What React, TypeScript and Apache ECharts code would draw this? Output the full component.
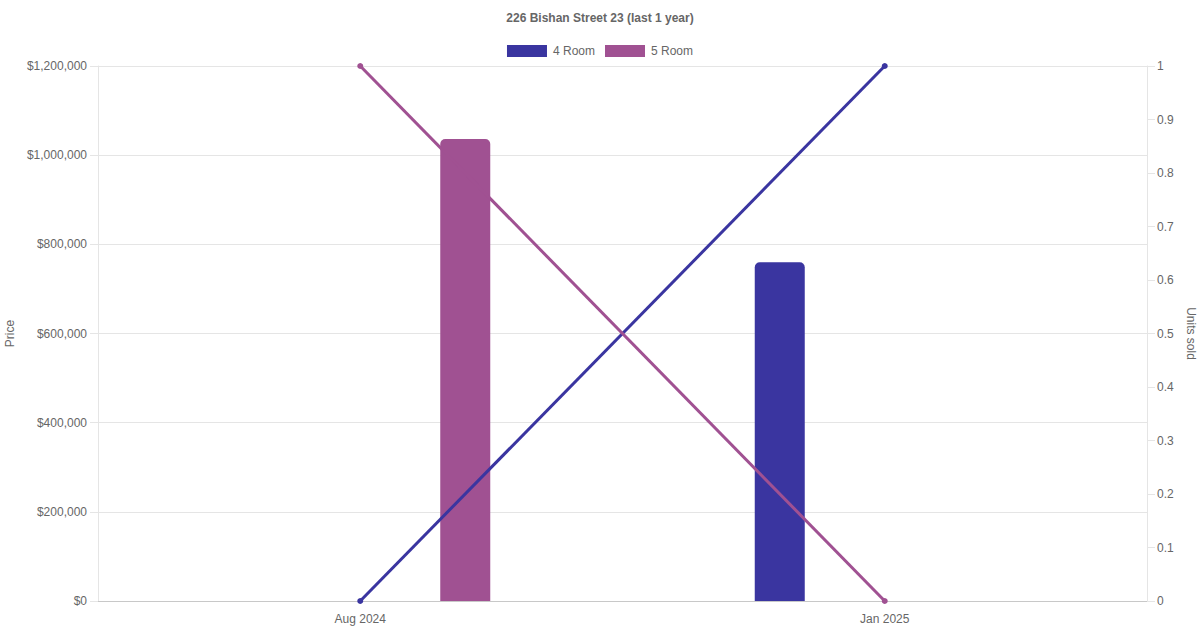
import React, { useEffect, useRef } from "react";
import * as echarts from "echarts";

const categories = ["Aug 2024", "Jan 2025"];
const price4Room: (number | null)[] = [null, 760000];
const price5Room: (number | null)[] = [1036000, null];
const units4Room: number[] = [0, 1];
const units5Room: number[] = [1, 0];
const seriesNames = ["4 Room", "5 Room"];
const colors = ["#3a35a0", "#a05192"];

const FONT = "Liberation Sans, Arial, Helvetica, sans-serif";

export default function App() {
  const ref = useRef<HTMLDivElement>(null);
  useEffect(() => {
    if (!ref.current) return;
    const chart = echarts.init(ref.current, null, { renderer: "svg" });
    chart.setOption({
      animation: false,
      textStyle: { fontFamily: FONT },
      title: {
        text: "226 Bishan Street 23 (last 1 year)",
        left: "center",
        top: 7,
        textStyle: { fontSize: 12, fontWeight: "bold", color: "#666", fontFamily: FONT },
      },
      legend: {
        top: 40,
        left: "center",
        icon: "rect",
        itemWidth: 40,
        itemHeight: 12,
        itemGap: 10,
        data: seriesNames,
        textStyle: { fontSize: 12, color: "#666", fontFamily: FONT, padding: [0, 0, 0, 1] },
      },
      grid: {
        left: 98,
        right: 53,
        top: 66,
        bottom: 29,
        containLabel: false,
        outerBoundsMode: "none",
      },
      xAxis: {
        type: "category",
        data: categories,
        boundaryGap: true,
        axisTick: { show: false },
        axisLine: { show: true, lineStyle: { color: "#c8c8c8", width: 1 } },
        axisLabel: { color: "#666", fontSize: 12, margin: 12, fontFamily: FONT },
        splitLine: { show: false },
      },
      yAxis: [
        {
          type: "value",
          min: 0,
          max: 1200000,
          interval: 200000,
          name: "Price",
          nameLocation: "middle",
          nameRotate: 90,
          nameGap: 82,
          nameTextStyle: { color: "#666", fontSize: 12, fontFamily: FONT },
          axisLine: { show: true, lineStyle: { color: "#e5e5e5" } },
          axisTick: { show: true, length: 8, lineStyle: { color: "#e5e5e5" } },
          axisLabel: {
            color: "#666",
            fontSize: 12,
            margin: 11,
            fontFamily: FONT,
            formatter: (v: number) => "$" + v.toLocaleString("en-US"),
          },
          splitLine: { show: true, lineStyle: { color: "#e5e5e5" } },
        },
        {
          type: "value",
          min: 0,
          max: 1,
          interval: 0.1,
          position: "right",
          name: "Units sold",
          nameLocation: "middle",
          nameRotate: -90,
          nameGap: 36,
          nameTextStyle: { color: "#666", fontSize: 12, fontFamily: FONT },
          axisLine: { show: true, lineStyle: { color: "#e5e5e5" } },
          axisTick: { show: true, length: 8, lineStyle: { color: "#e5e5e5" } },
          axisLabel: {
            color: "#666",
            fontSize: 12,
            margin: 10,
            fontFamily: FONT,
            formatter: (v: number) => String(Math.round(v * 10) / 10),
          },
          splitLine: { show: false },
        },
      ],
      series: [
        {
          name: seriesNames[0],
          type: "bar",
          yAxisIndex: 0,
          data: price4Room,
          barWidth: 50,
          barGap: "320%",
          itemStyle: { color: colors[0], borderRadius: [5, 5, 0, 0] },
          z: 2,
        },
        {
          name: seriesNames[1],
          type: "bar",
          yAxisIndex: 0,
          data: price5Room,
          barWidth: 50,
          barGap: "320%",
          itemStyle: { color: colors[1], borderRadius: [5, 5, 0, 0] },
          z: 2,
        },
        {
          name: seriesNames[0],
          type: "line",
          yAxisIndex: 1,
          data: units4Room,
          symbol: "circle",
          symbolSize: 6,
          lineStyle: { color: colors[0], width: 3 },
          itemStyle: { color: colors[0] },
          z: 3,
        },
        {
          name: seriesNames[1],
          type: "line",
          yAxisIndex: 1,
          data: units5Room,
          symbol: "circle",
          symbolSize: 6,
          lineStyle: { color: colors[1], width: 3 },
          itemStyle: { color: colors[1] },
          z: 3,
        },
      ],
    });
    return () => chart.dispose();
  }, []);
  return <div ref={ref} style={{ width: 1200, height: 630, position: "absolute", left: 0, top: 0 }} />;
}
